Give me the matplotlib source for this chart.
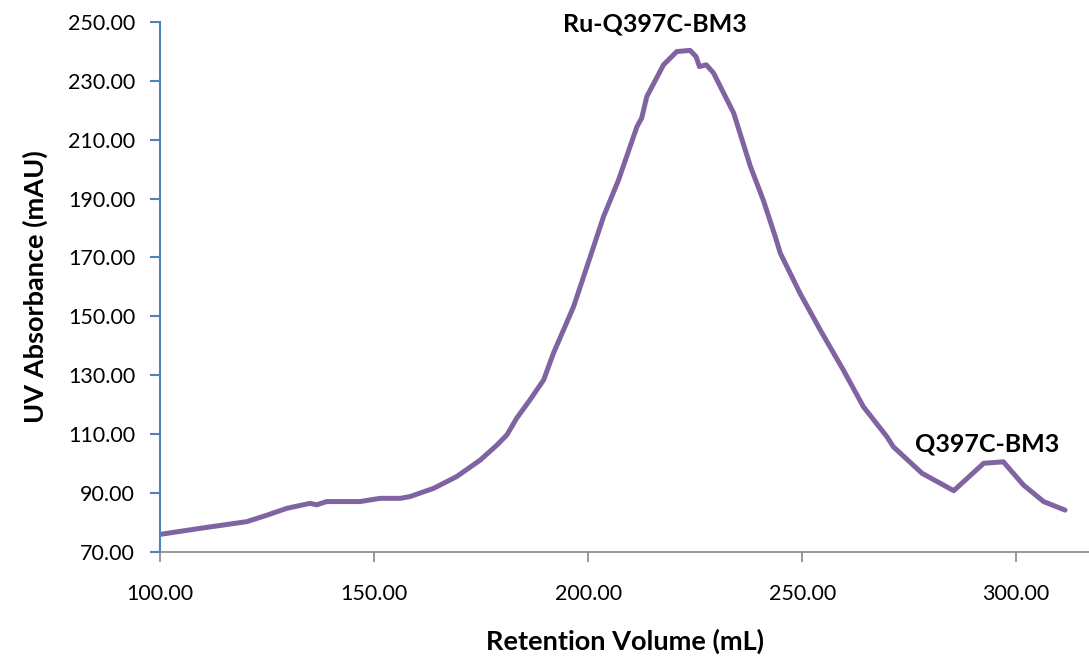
import matplotlib.pyplot as plt
from matplotlib.ticker import FormatStrFormatter

plt.rcParams['font.family'] = ['Lato', 'DejaVu Sans']

volume = [100.2, 109.3, 120.3, 125.0, 129.6, 135.0, 136.6, 138.9, 146.7, 151.4,
          156.1, 158.4, 163.9, 169.3, 174.8, 178.7, 181.0, 183.3, 186.4, 189.6,
          191.9, 196.6, 200.5, 203.6, 207.1, 211.4, 212.5, 213.7, 217.6, 220.7,
          223.8, 225.2, 226.0, 227.6, 229.3, 234.0, 237.9, 240.9, 243.7, 244.9,
          249.5, 254.2, 259.6, 264.3, 269.8, 271.3, 278.0, 285.4, 292.4, 297.0,
          301.7, 306.4, 311.4]
absorbance = [76.0, 78.0, 80.3, 82.5, 84.8, 86.5, 86.0, 87.1, 87.1, 88.2,
              88.2, 88.8, 91.6, 95.6, 101.2, 106.3, 109.7, 115.4, 121.6, 128.4,
              137.5, 153.3, 170.3, 183.9, 196.3, 214.4, 217.3, 224.6, 235.4, 239.9,
              240.3, 238.2, 234.8, 235.4, 232.6, 219.0, 200.9, 189.5, 177.1, 171.4,
              157.8, 145.4, 131.8, 119.3, 109.1, 105.7, 96.7, 90.8, 100.1, 100.6,
              92.7, 87.1, 84.2]

peak_labels = ['Ru-Q397C-BM3', 'Q397C-BM3']
peak_pos = [(215.6, 246.8), (293.2, 104.0)]

fig = plt.figure(figsize=(10.89, 6.61), dpi=100)
ax = fig.add_axes([0.147, 0.165, 0.853, 0.802])
ax.plot(volume, absorbance, color='#8064A2', lw=3.6, solid_capstyle='round',
        solid_joinstyle='round')

ax.set_xlim(100, 317)
ax.set_ylim(70, 250)
ax.set_xticks([100, 150, 200, 250, 300])
ax.set_yticks(range(70, 251, 20))
ax.xaxis.set_major_formatter(FormatStrFormatter('%.2f'))
ax.yaxis.set_major_formatter(FormatStrFormatter('%.2f'))

for s in ['top', 'right']:
    ax.spines[s].set_visible(False)
ax.spines['left'].set_color('#4F81BD')
ax.spines['left'].set_linewidth(1.5)
ax.spines['bottom'].set_color('#888888')
ax.spines['bottom'].set_linewidth(1.2)
ax.tick_params(axis='y', colors='#4F81BD', labelcolor='black', length=7, width=1.5, labelsize=15.5, pad=11)
ax.tick_params(axis='x', colors='#888888', labelcolor='black', length=7, width=1.2, labelsize=15.5, pad=16)

ax.set_xlabel('Retention Volume (mL)', fontsize=19.5, fontweight='bold', labelpad=18)
ax.set_ylabel('UV Absorbance (mAU)', fontsize=19.5, fontweight='bold', labelpad=14)

for lab, (px, py) in zip(peak_labels, peak_pos):
    ax.text(px, py, lab, fontsize=18, fontweight='bold', ha='center', va='baseline', clip_on=False)

fig.savefig('out.png', dpi=100)
